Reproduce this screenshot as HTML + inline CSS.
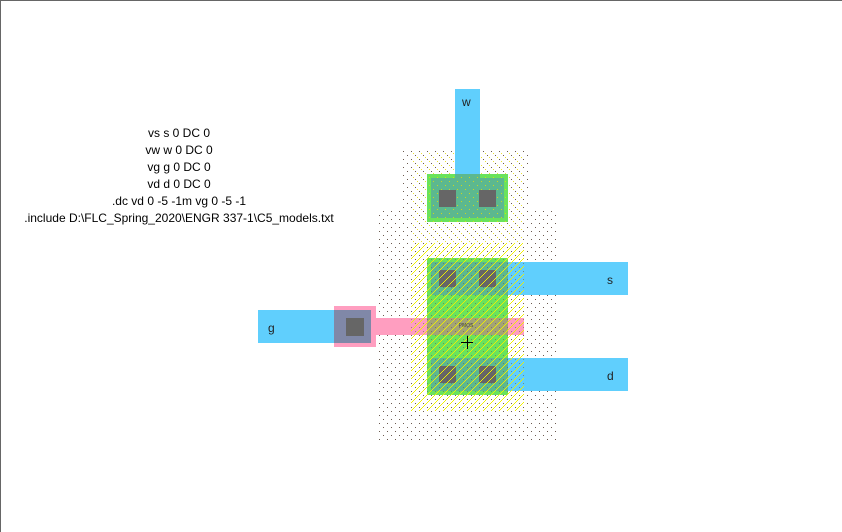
<!DOCTYPE html>
<html><head><meta charset="utf-8"><style>
html,body{margin:0;padding:0;background:#fff;}
svg{display:block;}
</style></head><body>
<svg width="842" height="532" viewBox="0 0 842 532" xmlns="http://www.w3.org/2000/svg" shape-rendering="crispEdges">
<defs>
<pattern id="dots" x="379" y="151" width="8" height="8" patternUnits="userSpaceOnUse">
<rect x="0" y="0" width="1" height="1" fill="#6b5a50"/>
<rect x="4" y="4" width="1" height="1" fill="#6b5a50"/>
</pattern>
<pattern id="ydots" x="381" y="153" width="8" height="8" patternUnits="userSpaceOnUse">
<rect x="0" y="0" width="1" height="1" fill="#e8e000"/>
<rect x="4" y="4" width="1" height="1" fill="#e8e000"/>
</pattern>
<pattern id="hatch" x="411" y="243" width="8" height="8" patternUnits="userSpaceOnUse">
<g fill="#f0f000">
<rect x="0" y="7" width="1" height="1"/><rect x="1" y="6" width="1" height="1"/>
<rect x="2" y="5" width="1" height="1"/><rect x="3" y="4" width="1" height="1"/>
<rect x="4" y="3" width="1" height="1"/><rect x="5" y="2" width="1" height="1"/>
<rect x="6" y="1" width="1" height="1"/><rect x="7" y="0" width="1" height="1"/>
</g>
</pattern>
</defs>
<rect x="0" y="0" width="842" height="532" fill="#fff"/>
<rect x="0" y="0" width="842" height="1" fill="#666"/>
<rect x="0" y="0" width="1" height="532" fill="#666"/>

<g font-family="Liberation Sans, sans-serif" font-size="12" fill="#000" text-anchor="middle" shape-rendering="auto">
<text x="179" y="137">vs s 0 DC 0</text>
<text x="179" y="154">vw w 0 DC 0</text>
<text x="179" y="171">vg g 0 DC 0</text>
<text x="179" y="188">vd d 0 DC 0</text>
<text x="179" y="205">.dc vd 0 -5 -1m vg 0 -5 -1</text>
<text x="179" y="222">.include D:\FLC_Spring_2020\ENGR 337-1\C5_models.txt</text>
</g>

<rect x="402" y="150" width="126" height="60" fill="url(#dots)"/>
<rect x="378" y="210" width="178" height="233" fill="url(#dots)"/>
<rect x="411" y="150" width="113" height="93" fill="url(#ydots)" opacity="0.8"/>

<rect x="455" y="89" width="25" height="90" fill="#60cffd"/>
<rect x="427" y="174" width="81" height="48" fill="#6ae35c"/>
<rect x="431" y="178" width="73" height="40" fill="#5cb88f"/>
<rect x="455" y="174" width="25" height="4" fill="#5cb88f"/>
<rect x="427" y="174" width="81" height="48" fill="url(#ydots)" opacity="0.8"/>
<rect x="439" y="190" width="17" height="17" fill="#666"/>
<rect x="479" y="190" width="17" height="17" fill="#666"/>

<rect x="508" y="262" width="120" height="33" fill="#60cffd"/>
<rect x="508" y="358" width="120" height="33" fill="#60cffd"/>
<rect x="427" y="258" width="81" height="137" fill="#6ae35c"/>
<rect x="431" y="262" width="77" height="33" fill="#5cb88f"/>
<rect x="431" y="358" width="77" height="33" fill="#5cb88f"/>
<rect x="372" y="318" width="55" height="17" fill="#ff9ec0"/>
<rect x="508" y="318" width="16" height="17" fill="#ff9ec0"/>
<rect x="427" y="318" width="81" height="17" fill="#a3a474"/>
<rect x="439" y="270" width="17" height="17" fill="#666"/>
<rect x="479" y="270" width="17" height="17" fill="#666"/>
<rect x="439" y="366" width="17" height="17" fill="#666"/>
<rect x="479" y="366" width="17" height="17" fill="#666"/>

<rect x="411" y="243" width="113" height="168" fill="url(#hatch)"/>
<rect x="411" y="243" width="113" height="168" fill="url(#dots)" opacity="0.6"/>

<rect x="258" y="310" width="80" height="33" fill="#60cffd"/>
<rect x="334" y="306" width="42" height="41" fill="#ff9ec0"/>
<rect x="334" y="310" width="37" height="33" fill="#8088a8"/>
<rect x="346" y="318" width="18" height="18" fill="#666"/>

<g font-family="Liberation Sans, sans-serif" font-size="12" fill="#222" shape-rendering="auto">
<text x="462" y="106">w</text>
<text x="607" y="284">s</text>
<text x="607" y="380">d</text>
<text x="268" y="332">g</text>
<text x="466" y="327" font-size="5" fill="#444" text-anchor="middle">PMOS</text>
</g>
<rect x="461" y="342" width="12" height="1" fill="#000"/>
<rect x="467" y="336" width="1" height="13" fill="#000"/>
</svg>
</body></html>
